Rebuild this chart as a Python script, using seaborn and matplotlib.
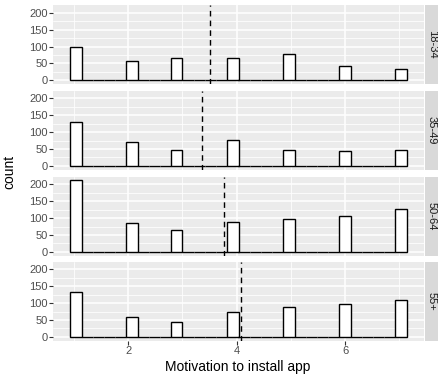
import numpy as np
import pandas as pd
import matplotlib
matplotlib.use("Agg")
import matplotlib.pyplot as plt
import seaborn as sns

# ---- data ----
groups = ["18-34", "35-49", "50-64", "55+"]
motivation = [1, 2, 3, 4, 5, 6, 7]
counts_18_34 = [100, 57, 65, 67, 77, 44, 33]
counts_35_49 = [129, 70, 47, 77, 47, 44, 47]
counts_50_64 = [212, 86, 65, 88, 97, 107, 127]
counts_55p = [132, 58, 45, 74, 89, 97, 109]
x_ticks = [2, 4, 6]
y_ticks = [0, 50, 100, 150, 200]

all_counts = [counts_18_34, counts_35_49, counts_50_64, counts_55p]
rows = []
for g, cs in zip(groups, all_counts):
    for m, c in zip(motivation, cs):
        rows.append({"group": g, "motivation": m, "count": c})
df = pd.DataFrame(rows)

sns.set_theme(style="white")
plt.rcParams["font.family"] = ["Liberation Sans", "DejaVu Sans"]

W, H = 439, 377
fig = plt.figure(figsize=(W / 100, H / 100), dpi=100)

# ggplot2-style binning: 30 bins, boundary = width/2, right-closed intervals
lo, hi = min(motivation), max(motivation)
bw = (hi - lo) / 29
boundary = bw / 2
shift = np.floor((lo - boundary) / bw)
origin = boundary + shift * bw
eps = 1e-7
brange = (origin + eps, origin + 30 * bw + eps)
span = brange[1] - brange[0]
xlim = (brange[0] - 0.05 * span, brange[1] + 0.05 * span)
ymax = max(max(c) for c in all_counts)
ylim = (-0.05 * ymax, ymax * 1.05)

left_px, right_px = 53.5, 423.5
panel_h = 79
tops = [5, 90.5, 176.5, 261.5]

for i, g in enumerate(groups):
    t = tops[i]
    ax = fig.add_axes([left_px / W, 1 - (t + panel_h) / H, (right_px - left_px) / W, panel_h / H])
    ax.set_facecolor("#EBEBEB")
    sub = df[df["group"] == g]
    sns.histplot(data=sub, x="motivation", weights="count", binwidth=bw, binrange=brange, ax=ax,
                 color="white", edgecolor="black", linewidth=1.0, alpha=1, zorder=3)
    mean = np.average(sub["motivation"], weights=sub["count"])
    ax.axvline(mean, color="black", linestyle=(0, (4, 3)), linewidth=1.0, zorder=4)
    ax.set_xlim(*xlim)
    ax.set_ylim(*ylim)
    ax.set_xticks(x_ticks)
    ax.set_xticks([1, 3, 5, 7], minor=True)
    ax.set_yticks(y_ticks)
    ax.set_yticks([25, 75, 125, 175], minor=True)
    ax.grid(True, which="major", color="white", linewidth=1.1, zorder=0)
    ax.grid(True, which="minor", color="white", linewidth=0.55, zorder=0)
    ax.set_axisbelow(True)
    for s in ax.spines.values():
        s.set_visible(False)
    ax.tick_params(axis="both", which="major", length=2.7, width=0.8, color="#333333",
                   labelsize=8, labelcolor="#4D4D4D", pad=1.5)
    ax.tick_params(axis="both", which="minor", length=0)
    ax.tick_params(axis="y", left=True)
    ax.set_ylabel("")
    ax.set_xlabel("")
    if i < 3:
        ax.tick_params(axis="x", bottom=False, labelbottom=False)
    else:
        ax.tick_params(axis="x", bottom=True)
    # facet strip
    sax = fig.add_axes([425 / W, 1 - (t + panel_h) / H, 14 / W, panel_h / H])
    sax.set_facecolor("#D9D9D9")
    sax.set_xticks([])
    sax.set_yticks([])
    for s in sax.spines.values():
        s.set_visible(False)
    sax.text(0.5, 0.5, g, rotation=-90, ha="center", va="center", fontsize=8,
             color="#1A1A1A", transform=sax.transAxes)

fig.text(238 / W, 1 - 367 / H, "Motivation to install app", ha="center", va="center",
         fontsize=10, color="black")
fig.text(9 / W, 1 - 172 / H, "count", rotation=90, ha="center", va="center",
         fontsize=10, color="black")

fig.savefig("out.png", dpi=100)
